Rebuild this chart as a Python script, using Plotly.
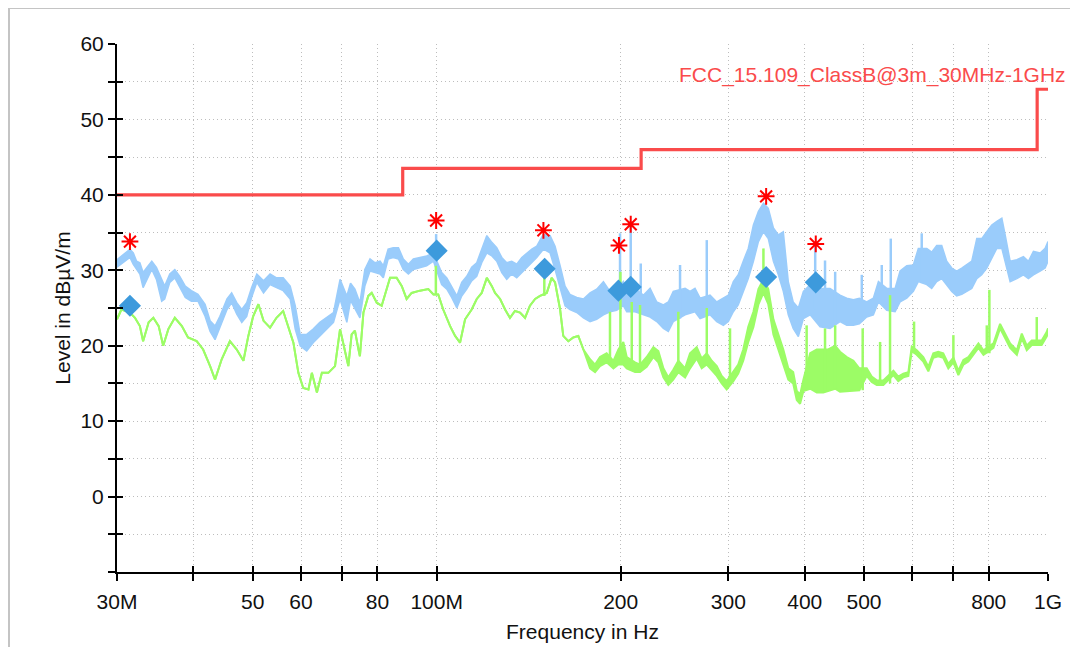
import math
import plotly.graph_objects as go

# ---------------- data (frequencies in MHz, levels in dBµV/m) ----------------
peak_freq = [30.0, 30.9, 31.5, 31.9, 32.3, 32.7, 33.1, 33.6, 34.2, 34.8, 35.5, 35.9, 36.6, 37.3, 38.0, 38.8,
             39.7, 40.7, 41.8, 42.6, 43.4, 44.2, 45.4, 46.2, 47.1, 48.0, 48.9, 49.8, 50.8, 52.1, 53.4, 54.7,
             56.1, 57.6, 58.7, 59.8, 61.3, 62.8, 64.4, 66.1, 67.8, 69.5, 71.3, 72.3, 73.5, 74.9, 76.3, 77.8,
             79.3, 80.8, 81.8, 83.3, 84.9, 86.6, 88.2, 89.9, 91.6, 93.9, 96.3, 98.8, 101.9, 103.9, 105.8,
             107.9, 109.9, 112.0, 114.1, 116.3, 118.5, 120.8, 123.1, 125.4, 127.8, 130.2, 132.7, 135.2,
             137.8, 140.4, 143.1, 145.8, 149.5, 153.3, 156.2, 159.2, 162.2, 165.2, 169.5, 173.8, 178.2,
             182.7, 187.4, 192.1, 197.0, 202.0, 204.6, 211.1, 217.8, 223.4, 229.1, 234.9, 239.3, 243.8,
             254.9, 259.7, 264.6, 269.7, 280.0, 287.2, 294.4, 300.0, 305.7, 311.4, 317.3, 323.4, 329.7,
             336.0, 342.4, 348.7, 355.5, 362.2, 369.0, 376.0, 383.0, 390.5, 398.0, 408.3, 423.8, 440.0,
             456.9, 468.6, 480.5, 491.4, 505.2, 518.0, 528.0, 544.9, 562.2, 572.9, 587.5, 602.2, 613.6,
             633.4, 645.3, 657.6, 670.1, 682.8, 696.0, 709.0, 722.6, 736.4, 750.4, 764.8, 779.1, 794.1,
             809.2, 824.6, 840.4, 851.0, 867.1, 889.3, 911.6, 928.8, 946.6, 970.8, 989.3, 1000.0]
peak_hi = [31.4, 32.3, 32.8, 32.3, 31.2, 31.0, 29.7, 30.4, 31.2, 30.4, 28.8, 27.9, 29.5, 30.1, 29.2, 27.9,
           27.3, 26.8, 25.5, 23.3, 22.6, 23.9, 26.2, 27.0, 25.7, 24.8, 25.7, 27.7, 29.5, 28.6, 29.5, 29.0,
           29.0, 27.9, 25.3, 21.5, 21.5, 22.2, 23.1, 23.7, 24.4, 28.8, 26.6, 28.3, 27.5, 25.7, 30.1, 31.5,
           31.0, 31.2, 30.6, 32.8, 33.0, 33.0, 31.5, 30.8, 31.5, 31.7, 31.9, 32.3, 29.7, 29.0, 27.9,
           26.6, 28.4, 29.2, 30.4, 31.0, 32.8, 34.6, 33.7, 33.0, 31.7, 31.0, 31.2, 30.8,
           31.7, 32.3, 32.8, 33.2, 34.8, 34.6, 33.2, 30.6, 27.9, 26.8, 26.4, 26.2, 27.0,
           27.5, 28.5, 27.2, 27.2, 28.5, 27.6, 27.6, 26.7, 27.6, 25.8, 25.4, 25.8, 27.2,
           27.6, 27.2, 27.6, 26.3, 26.7, 25.8, 26.3, 26.7, 28.5, 29.4, 31.2, 32.9, 36.0,
           37.8, 38.9, 38.2, 35.6, 34.7, 35.1, 28.5, 25.8, 25.0, 27.2, 28.1, 27.6, 27.6,
           26.7, 26.3, 26.1, 26.3, 25.8, 26.3, 28.5, 27.6, 27.6, 29.9, 30.6, 30.7, 32.9,
           32.9, 32.4, 33.3, 33.3, 31.2, 30.3, 29.9, 30.3, 30.7, 31.2, 34.2, 34.2, 35.1,
           36.0, 36.5, 36.9, 34.7, 31.2, 31.4, 31.8, 31.2, 32.5, 32.3, 32.9, 33.8]
peak_lo = [30.4, 31.2, 31.7, 30.8, 30.1, 29.5, 27.7, 28.8, 30.1, 28.8, 25.9, 26.2, 28.4, 29.0, 27.7, 26.4,
           25.9, 25.9, 23.9, 21.9, 20.8, 22.4, 24.8, 25.7, 24.2, 23.1, 23.9, 26.4, 28.4, 27.0, 28.1, 27.7,
           27.3, 26.2, 22.2, 20.0, 19.3, 20.4, 21.3, 22.2, 23.1, 26.2, 23.1, 26.0, 25.0, 23.7, 27.9, 29.9,
           29.7, 29.5, 29.0, 31.5, 31.7, 31.5, 30.1, 29.5, 30.1, 30.4, 30.6, 31.2, 28.1, 27.5, 26.4,
           25.0, 26.6, 27.5, 28.6, 29.2, 31.0, 32.3, 31.9, 31.2, 29.7, 28.8, 29.5, 29.0,
           29.7, 30.4, 31.0, 31.7, 32.8, 32.3, 30.1, 27.5, 25.3, 24.8, 24.4, 23.7, 23.2,
           23.5, 24.1, 24.5, 24.7, 25.3, 24.5, 24.5, 24.1, 23.8, 23.2, 22.3, 21.9, 23.2,
           24.1, 24.3, 24.5, 23.6, 24.1, 23.2, 22.7, 23.2, 24.5, 25.4, 27.2, 28.9, 31.2,
           33.8, 35.1, 34.2, 31.2, 29.4, 27.2, 24.1, 22.3, 21.2, 23.6, 24.1, 22.5, 22.3,
           23.2, 22.7, 22.7, 22.9, 23.8, 24.1, 25.8, 24.7, 24.5, 25.8, 26.3, 27.2, 28.5,
           28.1, 27.6, 28.5, 28.9, 28.1, 27.2, 26.6, 26.8, 27.2, 27.6, 28.9, 29.4, 30.3,
           31.6, 32.9, 32.9, 31.2, 28.5, 28.9, 29.4, 28.9, 29.4, 29.9, 30.3, 31.2]

peak_spike_freq = [99.8, 199.5, 207.7, 215.7, 250.1, 276.6, 416.1, 431.8, 448.6, 495.9, 534.7, 553.1, 621.5]
peak_spike_base = [31.5, 25.0, 24.5, 24.3, 23.6, 24.1, 24.8, 22.5, 23.0, 23.2, 25.5, 24.6, 28.3]
peak_spike_top = [34.8, 34.9, 36.2, 30.9, 30.7, 34.0, 33.4, 31.3, 29.8, 29.4, 30.7, 34.2, 34.9]

avg_freq = [30.0, 30.5, 31.5, 32.1, 32.7, 33.1, 33.8, 34.4, 35.1, 35.7, 36.4, 37.3, 38.3, 39.2, 40.5, 41.5,
            42.6, 43.4, 44.5, 45.9, 47.1, 48.3, 49.2, 50.1, 51.1, 52.1, 53.4, 54.7, 56.1, 57.2, 58.3, 59.4,
            60.5, 61.7, 62.5, 63.7, 64.9, 66.5, 68.2, 69.5, 70.4, 71.7, 72.6, 73.5, 74.5, 74.9, 75.9, 77.3,
            78.3, 79.8, 81.3, 82.9, 83.9, 86.0, 87.7, 89.3, 91.0, 93.9, 96.9, 98.8, 100.6, 102.5, 105.2,
            107.2, 109.2, 111.3, 114.1, 116.3, 118.5, 120.8, 123.1, 124.6, 127.0, 129.4, 131.8, 134.3,
            136.9, 139.5, 142.1, 144.9, 147.6, 151.4, 154.2, 156.2, 159.2, 161.1, 164.2, 167.3, 170.5,
            173.8, 178.2, 181.6, 185.0, 189.7, 194.6, 198.3, 202.0, 204.6, 211.1, 215.1, 220.6, 226.2,
            230.5, 234.9, 239.3, 243.8, 248.5, 254.9, 259.7, 266.3, 271.4, 276.6, 281.8, 287.2, 292.6,
            298.1, 305.7, 311.4, 317.3, 323.4, 329.7, 336.0, 342.4, 348.7, 355.5, 362.2, 369.0, 376.0,
            383.0, 388.2, 393.1, 398.0, 408.3, 418.6, 429.0, 437.1, 448.6, 456.9, 468.6, 480.5, 491.4,
            505.2, 514.8, 524.7, 537.9, 558.6, 569.0, 579.8, 591.0, 598.6, 609.9, 625.2, 637.2, 649.2,
            661.5, 674.0, 687.0, 700.2, 713.5, 727.1, 740.9, 755.1, 769.5, 784.2, 814.2, 834.9, 851.0,
            867.1, 889.3, 906.0, 923.1, 940.6, 976.4, 995.0, 1000.0]
avg_hi = [23.5, 24.8, 24.4, 23.7, 22.6, 20.6, 23.1, 23.7, 22.6, 20.0, 22.2, 23.7, 22.6, 21.1, 20.6, 19.5,
          17.3, 15.5, 18.2, 20.6, 19.5, 18.0, 21.3, 23.9, 25.5, 23.3, 22.4, 23.7, 24.6, 22.6, 20.4, 16.4,
          14.4, 14.2, 16.4, 13.8, 16.4, 16.4, 17.3, 22.2, 20.0, 17.3, 21.5, 22.0, 19.5, 18.6, 24.4, 26.6,
          27.0, 25.7, 25.3, 27.5, 29.0, 29.0, 27.9, 26.2, 27.0, 27.3, 27.5, 26.8, 26.8, 24.8, 22.6,
          21.3, 20.4, 23.5, 24.8, 26.2, 27.0, 29.0, 27.9, 27.0, 26.2, 24.8, 23.7, 24.6,
          24.4, 23.7, 25.3, 26.2, 26.6, 27.0, 29.0, 28.4, 24.8, 21.3, 20.6, 21.1, 21.3,
          19.5, 18.2, 17.5, 18.5, 19.0, 18.0, 19.5, 20.5, 18.5, 17.8, 17.5, 18.5, 19.8,
          19.3, 17.0, 15.8, 16.8, 18.0, 17.0, 19.0, 19.8, 18.3, 19.0, 18.0, 17.3, 16.0,
          15.3, 16.5, 17.5, 19.5, 22.5, 24.5, 27.5, 28.8, 27.5, 23.5, 21.5, 19.5, 17.0,
          16.5, 14.0, 13.5, 15.5, 19.0, 19.5, 19.5, 19.5, 20.0, 19.2, 18.5, 18.0, 17.0,
          17.0, 15.9, 15.4, 15.4, 16.7, 15.9, 16.3, 16.5, 19.9, 19.4, 18.5, 17.2, 19.0,
          19.2, 19.0, 17.6, 18.4, 16.7, 18.1, 18.5, 19.4, 20.3, 19.4, 20.3, 22.9, 21.6,
          20.3, 19.4, 21.6, 20.0, 20.7, 20.7, 21.8, 22.3]
avg_lo = [23.5, 24.8, 24.4, 23.7, 22.6, 20.6, 23.1, 23.7, 22.6, 20.0, 22.2, 23.7, 22.6, 21.1, 20.6, 19.5,
          17.3, 15.5, 18.2, 20.6, 19.5, 18.0, 21.3, 23.9, 25.5, 23.3, 22.4, 23.7, 24.6, 22.6, 20.4, 16.4,
          14.4, 14.2, 16.4, 13.8, 16.4, 16.4, 17.3, 22.2, 20.0, 17.3, 21.5, 22.0, 19.5, 18.6, 24.4, 26.6,
          27.0, 25.7, 25.3, 27.5, 29.0, 29.0, 27.9, 26.2, 27.0, 27.3, 27.5, 26.8, 26.8, 24.8, 22.6,
          21.3, 20.4, 23.5, 24.8, 26.2, 27.0, 29.0, 27.9, 27.0, 26.2, 24.8, 23.7, 24.6,
          24.4, 23.7, 25.3, 26.2, 26.6, 27.0, 29.0, 28.4, 24.8, 21.3, 20.6, 21.1, 21.3,
          19.5, 17.0, 16.5, 17.3, 17.8, 17.0, 17.5, 17.5, 17.0, 16.5, 16.5, 17.2, 18.5,
          17.8, 15.8, 14.8, 15.5, 16.5, 15.8, 17.0, 18.3, 17.0, 17.5, 16.8, 16.0, 15.0,
          14.2, 15.3, 16.3, 18.0, 20.5, 22.5, 25.5, 27.0, 25.5, 21.5, 19.5, 17.5, 15.5,
          15.0, 12.8, 12.3, 14.0, 14.3, 13.8, 13.8, 14.0, 14.3, 13.9, 14.0, 14.1, 14.1,
          16.0, 15.2, 14.8, 14.8, 16.1, 15.3, 15.8, 16.0, 19.3, 18.8, 17.9, 16.6, 18.4,
          18.6, 18.4, 17.0, 17.8, 16.1, 17.5, 17.9, 18.8, 19.7, 18.8, 19.7, 22.3, 21.0,
          19.7, 18.8, 21.0, 19.4, 20.1, 20.1, 21.2, 21.7]

avg_spike_freq = [99.7, 150.0, 192.1, 199.8, 208.5, 215.1, 248.5, 276.6, 301.9, 342.4, 402.9, 431.8, 448.6,
                  497.6, 531.3, 551.6, 603.8, 700.2, 794.1, 801.9, 958.5]
avg_spike_base = [26.8, 26.6, 17.8, 17.5, 17.0, 16.5, 16.5, 17.5, 15.0, 27.0, 14.5, 14.0, 14.3,
                  14.1, 14.8, 15.0, 19.0, 17.8, 19.0, 19.0, 20.0]
avg_spike_top = [30.6, 29.3, 24.5, 29.8, 25.8, 25.4, 24.5, 25.0, 22.3, 32.9, 22.7, 22.3, 22.7,
                 22.3, 20.5, 26.7, 23.2, 21.4, 22.7, 27.4, 23.8]

limit_freq = [30, 88, 216, 960, 1000]
limit_level = [40, 43.5, 46, 54, 54]
limit_name = "FCC_15.109_ClassB@3m_30MHz-1GHz"

pk_marker_freq = [31.5, 99.8, 149.5, 198.7, 207.7, 345.9, 417.0]
pk_marker_level = [33.8, 36.6, 35.3, 33.3, 36.1, 39.8, 33.5]
qp_marker_freq = [31.5, 100.0, 150.2, 198.3, 207.7, 345.9, 417.0]
qp_marker_level = [25.3, 32.6, 30.2, 27.3, 27.8, 29.1, 28.4]

x_tickvals = [30, 40, 50, 60, 70, 80, 100, 200, 300, 400, 500, 600, 700, 800, 1000]
x_ticktext = ["30M", "", "50", "60", "", "80", "100M", "200", "300", "400", "500", "", "", "800", "1G"]
y_tickvals = list(range(-10, 61, 5))
y_ticktext = [str(v) if (v % 10 == 0 and v >= 0) else "" for v in y_tickvals]

# ---------------- styles ----------------
BLUE = "#9ACCFB"
GREEN = "#9CFC66"
RED_LIMIT = "#FA4B4B"
FONT = "Liberation Sans"

fig = go.Figure()


def add_band(f, hi, lo, color, width):
    fig.add_trace(go.Scatter(x=f, y=lo, mode="lines", line=dict(color=color, width=width),
                             showlegend=False, hoverinfo="skip"))
    fig.add_trace(go.Scatter(x=f, y=hi, mode="lines", line=dict(color=color, width=width),
                             fill="tonexty", fillcolor=color, showlegend=False))


def add_spikes(f, base, top, color, width):
    xs, ys = [], []
    for a, b, c in zip(f, base, top):
        xs += [a, a, None]
        ys += [b, c, None]
    fig.add_trace(go.Scatter(x=xs, y=ys, mode="lines", line=dict(color=color, width=width),
                             connectgaps=False, showlegend=False))


add_band(peak_freq, peak_hi, peak_lo, BLUE, 1.5)
add_spikes(peak_spike_freq, peak_spike_base, peak_spike_top, BLUE, 2.5)
add_band(avg_freq, avg_hi, avg_lo, GREEN, 2)
add_spikes(avg_spike_freq, avg_spike_base, avg_spike_top, GREEN, 2.5)

fig.add_trace(go.Scatter(x=limit_freq, y=limit_level, mode="lines", line_shape="hv",
                         line=dict(color=RED_LIMIT, width=3.2), showlegend=False))

fig.add_trace(go.Scatter(x=qp_marker_freq, y=qp_marker_level, mode="markers",
                         marker=dict(symbol="diamond", size=17, color="#3D9ADC",
                                     line=dict(width=0)), showlegend=False))
fig.add_trace(go.Scatter(x=pk_marker_freq, y=pk_marker_level, mode="markers",
                         marker=dict(symbol="asterisk-open", size=14, color="#FF0000",
                                     line=dict(width=2, color="#FF0000")), showlegend=False))

# dummy trace for the overlay axes (cross ticks)
fig.add_trace(go.Scatter(x=[30], y=[-50], xaxis="x2", yaxis="y2", mode="lines",
                         showlegend=False, hoverinfo="skip"))

xr = [math.log10(30), math.log10(1000)]
common_font = dict(family=FONT, size=21, color="#111111")

fig.update_layout(
    width=1078, height=647,
    margin=dict(l=109, r=38, t=36, b=83, autoexpand=False),
    paper_bgcolor="white", plot_bgcolor="white",
    showlegend=False,
    font=common_font,
    xaxis=dict(type="log", range=xr, tickmode="array", tickvals=x_tickvals, ticktext=x_ticktext,
               ticks="outside", ticklen=7, tickwidth=2, tickcolor="black", automargin=False,
               showline=True, linecolor="black", linewidth=2,
               showgrid=True, gridcolor="#BDBDBD", griddash="1px,3px", gridwidth=1,
               zeroline=False, tickfont=common_font, ticklabelstandoff=3,
               title=dict(text="Frequency in Hz", font=common_font, standoff=12)),
    yaxis=dict(range=[-10, 60], tickmode="array", tickvals=y_tickvals, ticktext=y_ticktext,
               ticks="outside", ticklen=7, tickwidth=2, tickcolor="black", automargin=False,
               showline=True, linecolor="black", linewidth=2,
               showgrid=True, gridcolor="#BDBDBD", griddash="1px,3px", gridwidth=1,
               zeroline=False, tickfont=common_font, ticklabelstandoff=0,
               title=dict(text="Level in dBµV/m", font=common_font, standoff=4)),
    xaxis2=dict(type="log", range=xr, overlaying="x", anchor="y", side="bottom", automargin=False,
                tickmode="array", tickvals=x_tickvals, ticks="inside", ticklen=6, tickwidth=2,
                tickcolor="black", showticklabels=False, showgrid=False, showline=False, zeroline=False),
    yaxis2=dict(range=[-10, 60], overlaying="y", anchor="x", side="left", automargin=False,
                tickmode="array", tickvals=y_tickvals, ticks="inside", ticklen=6, tickwidth=2,
                tickcolor="black", showticklabels=False, showgrid=False, showline=False, zeroline=False),
    shapes=[dict(type="rect", xref="paper", yref="paper", x0=-0.116, x1=1.3, y0=-0.4, y1=1.068,
                 line=dict(color="#C4C4C4", width=2), layer="below")],
    annotations=[dict(text=limit_name, xref="paper", yref="paper", x=1.0215, y=0.941,
                      xanchor="right", yanchor="middle", showarrow=False,
                      font=dict(family=FONT, size=21, color=RED_LIMIT))],
)

fig.write_html("out.html")
